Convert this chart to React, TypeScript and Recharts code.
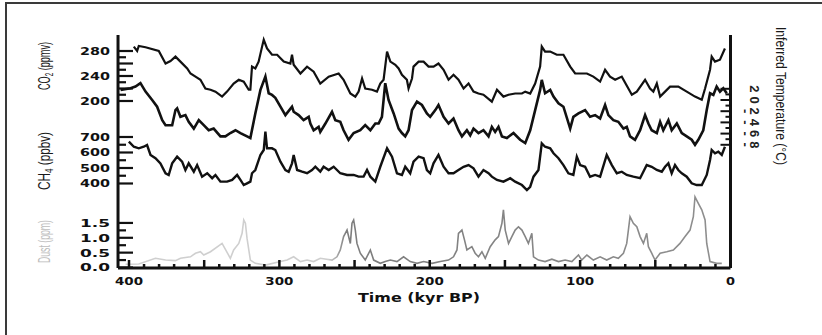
import React from 'react';
import { ComposedChart, Line, XAxis, YAxis } from 'recharts';

const WIDTH = 822;
const HEIGHT = 335;
const INK = '#111';
const TICK_FONT = '"DejaVu Sans", Verdana, sans-serif';
const TITLE_FONT = '"Liberation Sans Narrow", "Liberation Sans", Arial, sans-serif';
// axes need a non-zero box to be drawn; keep it tiny so they all sit on the plot edge
const THIN = 0.01;

// ice core record, time in kyr BP
const co2Kyr = [
  396.8, 394.6, 393.5, 389, 380.2, 375.7, 372.4, 369.1, 365.8, 361.3,
  359.1, 355.8, 352.5, 349.2, 345.8, 342.5, 338.1, 334.8, 330.4, 327,
  323.7, 320.4, 319.3, 318.2, 316, 313.8, 311.5, 310.4, 308.2, 304.9,
  301.5, 297.1, 292.7, 291.6, 290.5, 286, 281.6, 277.2, 272.8, 267.2,
  260.6, 257.3, 252.8, 249.5, 247.3, 245, 242.9, 238.4, 235.1, 232.9,
  230.7, 228.4, 226.2, 222.9, 220.7, 218.5, 215.2, 214.1, 211.8, 210.8,
  207.4, 204.1, 200.8, 197.5, 194.2, 190.8, 187.5, 184.2, 180.9, 177.5,
  174.2, 170.9, 167.6, 164.3, 158.7, 155.3, 151, 147.6, 143.2, 138.7,
  136.5, 133.2, 129.9, 126.6, 125.5, 123.3, 119.9, 115.5, 111.1, 106.6,
  103.3, 98.9, 95.5, 91.2, 86.7, 83.4, 80.1, 76.7, 72.3, 65.6,
  62.3, 56.8, 53.5, 51.3, 49, 46.8, 43.5, 40.2, 34.7, 29.1,
  23.6, 19.1, 16.9, 13.6, 12.5, 10.3, 7, 3.7,
];
const co2Ppmv = [
  287, 280, 288, 286, 280, 260, 264, 271, 263, 252,
  244, 239, 234, 220, 218, 215, 207, 215, 228, 234,
  231, 218, 218, 255, 252, 263, 287, 298, 284, 274,
  274, 263, 260, 274, 258, 244, 255, 247, 228, 239,
  244, 234, 212, 207, 215, 236, 220, 218, 215, 228,
  234, 279, 263, 258, 252, 242, 234, 220, 236, 255,
  263, 263, 255, 255, 260, 250, 234, 242, 234, 220,
  228, 215, 212, 210, 199, 218, 207, 210, 212, 212,
  215, 212, 228, 255, 287, 279, 279, 274, 274, 255,
  244, 244, 244, 239, 231, 250, 239, 234, 239, 210,
  215, 234, 220, 215, 228, 207, 215, 223, 223, 215,
  207, 202, 220, 250, 271, 263, 266, 284,
];

const tempKyr = [
  405.6, 399, 395.7, 392.4, 389, 384.6, 381.3, 377.9, 375.7, 371.3,
  369.1, 368, 365.8, 362.5, 360.3, 356.9, 353.6, 350.3, 347, 343.7,
  339.2, 335.9, 332.6, 329.2, 325.9, 321.5, 319.3, 316, 312.6, 309.3,
  307.1, 304.9, 302.7, 299.3, 296, 291.6, 290.5, 287.2, 283.9, 280.5,
  279.4, 277.2, 273.9, 272.8, 269.4, 265, 262.8, 259.5, 257.3, 254,
  250.6, 246.2, 242.9, 239.5, 236.2, 234, 231.8, 229.6, 227.4, 224,
  220.7, 218.5, 216.3, 214.1, 211.8, 208.5, 205.2, 201.9, 199.7, 196.3,
  194.2, 190.8, 187.5, 184.2, 180.9, 178.6, 175.3, 173.1, 170.9, 167.6,
  164.3, 160.9, 158.7, 156.5, 154.3, 152, 148.7, 144.3, 139.9, 136.5,
  133.2, 129.9, 126.6, 125.5, 123.3, 119.9, 117.7, 114.4, 111.1, 106.6,
  104.5, 101.1, 96.7, 93.4, 90, 86.7, 83.4, 81.2, 77.9, 74.6,
  71.2, 69, 66.8, 63.5, 60.1, 56.8, 54.6, 52.4, 49, 46.8,
  44.7, 41.3, 39.1, 35.7, 32.4, 29.1, 25.8, 23.6, 21.4, 18.1,
  15.8, 13.6, 11.4, 9.2, 7, 4.8, 2.5,
];
const tempC = [
  1.8, 2.1, 2.4, 3.0, 1.5, 0, -1.2, -3.6, -4.5, -4.5,
  -1.8, -1.5, -3.0, -2.7, -3.9, -5.1, -3.6, -4.5, -5.4, -5.1,
  -6.5, -6.5, -5.9, -5.4, -5.9, -6.5, -6.8, -2.4, 1.8, 4.2,
  1.2, 0.9, 0.4, -1.2, -2.7, -1.2, -2.1, -2.7, -3.6, -3.0,
  -4.2, -5.4, -4.8, -5.7, -4.2, -2.1, -3.6, -3.9, -5.4, -7.1,
  -5.9, -5.4, -4.5, -5.4, -4.2, -4.2, -3.0, 3.0, 0, -2.4,
  -5.1, -5.9, -6.5, -5.4, -1.8, -0.3, -0.9, -2.4, -3.0, -1.8,
  -0.9, -3.0, -4.2, -3.3, -5.4, -6.5, -5.4, -6.3, -5.1, -5.9,
  -5.4, -6.5, -4.8, -5.7, -4.8, -6.5, -6.8, -5.9, -7.1, -7.7,
  -5.4, -1.8, 1.8, 3.6, 1.2, 1.8, 0.6, -0.6, -1.2, -5.1,
  -3.0, -2.4, -1.8, -3.0, -2.7, -3.3, -0.9, -2.7, -3.6, -3.9,
  -5.1, -4.8, -6.5, -7.1, -5.4, -2.7, -4.2, -5.4, -5.9, -3.9,
  -5.4, -3.6, -5.4, -4.2, -5.9, -6.5, -7.1, -8.0, -7.1, -5.4,
  -1.8, 1.2, 0.9, 2.4, 1.5, 2.1, 1.2,
];

const ch4Kyr = [
  400.1, 396.8, 393.5, 390.2, 388, 385.7, 382.4, 379.1, 375.7, 373.6,
  371.3, 368, 364.7, 362.5, 360.3, 356.9, 354.7, 351.4, 348, 344.7,
  342.5, 339.2, 334.8, 331.4, 328.1, 325.9, 323.7, 321.5, 319.3, 318.2,
  316, 312.6, 310.4, 309.3, 308.2, 304.9, 302.7, 299.3, 296, 293.8,
  291.6, 290.5, 288.2, 284.9, 281.6, 278.3, 276.1, 272.8, 270.6, 267.2,
  263.9, 259.5, 255, 250.6, 247.3, 244, 241.7, 239.5, 236.2, 232.9,
  228.4, 225.1, 221.8, 218.5, 216.3, 213, 210.8, 207.4, 204.1, 201.9,
  199.7, 197.5, 194.2, 190.8, 187.5, 184.2, 180.9, 177.5, 174.2, 170.9,
  167.6, 164.3, 160.9, 158.7, 155.3, 151, 146.5, 143.2, 138.7, 135.4,
  133.2, 131, 127.7, 125.5, 123.3, 119.9, 117.7, 114.4, 111.1, 107.8,
  104.5, 102.2, 100, 96.7, 93.4, 90, 86.7, 82.3, 78.9, 75.6,
  72.3, 69, 64.6, 60.1, 55.7, 52.4, 49, 45.7, 43.5, 41.3,
  39.1, 36.9, 34.7, 32.4, 29.1, 25.8, 22.5, 19.1, 15.8, 13.6,
  12.5, 10.3, 8.1, 5.8, 3.7,
];
const ch4Ppbv = [
  670, 637, 627, 637, 648, 584, 563, 530, 466, 455,
  530, 573, 541, 487, 530, 476, 519, 444, 466, 434,
  455, 412, 412, 423, 455, 423, 390, 401, 412, 466,
  487, 584, 616, 734, 627, 627, 616, 541, 487, 476,
  530, 584, 487, 476, 466, 487, 508, 476, 508, 487,
  508, 466, 455, 455, 444, 444, 487, 444, 412, 508,
  627, 573, 466, 455, 508, 466, 541, 573, 563, 487,
  466, 530, 584, 508, 466, 466, 487, 508, 519, 498,
  444, 487, 466, 444, 423, 412, 434, 412, 390, 358,
  379, 444, 487, 659, 637, 627, 595, 563, 519, 466,
  455, 573, 519, 508, 444, 455, 444, 584, 519, 466,
  476, 455, 444, 434, 519, 508, 487, 476, 508, 530,
  466, 519, 487, 466, 444, 401, 390, 390, 455, 552,
  616, 595, 605, 584, 637,
];

const dustKyr = [
  402.3, 393.5, 382.4, 375.7, 369.1, 365.8, 359.1, 355.8, 352.5, 350.3,
  345.8, 338.1, 332.6, 330.4, 327, 324.8, 323.7, 322.6, 321.5, 319.3,
  316, 309.3, 299.3, 294.9, 290.5, 286, 281.6, 277.2, 272.8, 265,
  261.7, 259.5, 257.3, 255, 252.8, 251.7, 250.6, 249.5, 248.4, 246.2,
  242.9, 239.5, 237.3, 232.9, 229.6, 226.2, 221.8, 217.4, 213, 208.5,
  204.1, 198.5, 193, 187.5, 184.2, 181.9, 180.9, 178.6, 176.9, 175.3,
  172, 169.8, 167.6, 165.3, 163.1, 159.8, 156.5, 154.3, 152, 151,
  149.8, 147.6, 145.4, 143.2, 141, 138.7, 136.5, 134.4, 132.1, 131,
  127.7, 123.3, 118.8, 114.4, 110, 105.5, 101.1, 98.9, 95.5, 91.2,
  86.7, 82.3, 77.9, 74.6, 71.2, 69, 66.8, 64.6, 62.3, 60.1,
  57.9, 55.7, 54.6, 52.4, 50.2, 46.8, 42.4, 38, 33.6, 30.2,
  26.9, 24.7, 23.6, 21.4, 19.1, 16.9, 15.8, 13.6, 9.2, 5.8,
];
const dustPpm = [
  0.11, 0.12, 0.31, 0.25, 0.23, 0.31, 0.36, 0.48, 0.53, 0.42,
  0.53, 0.81, 0.31, 0.59, 0.81, 1.15, 1.6, 1.49, 0.98, 0.25,
  0.14, 0.08, 0.2, 0.25, 0.36, 0.2, 0.25, 0.2, 0.31, 0.25,
  0.36, 0.59, 1.04, 1.26, 0.81, 1.49, 1.6, 1.26, 0.81, 0.48,
  0.25, 0.59, 0.25, 0.14, 0.2, 0.25, 0.2, 0.36, 0.2, 0.14,
  0.2, 0.14, 0.2, 0.25, 0.36, 0.59, 1.15, 1.26, 0.93, 0.59,
  0.7, 0.48, 0.36, 0.53, 0.31, 0.7, 0.93, 1.04, 1.49, 1.94,
  1.26, 0.81, 1.04, 1.26, 1.37, 1.26, 1.04, 0.81, 1.15, 0.36,
  0.25, 0.2, 0.28, 0.2, 0.25, 0.2, 0.42, 0.25, 0.42, 0.25,
  0.36, 0.25, 0.36, 0.31, 0.48, 0.81, 1.71, 1.49, 1.37, 1.04,
  0.81, 1.15, 0.7, 0.48, 0.25, 0.48, 0.53, 0.59, 0.81, 1.04,
  1.26, 1.71, 2.38, 2.16, 1.94, 1.6, 0.81, 0.2, 0.14, 0.14,
];

const timeTicks = [
  0, 10, 20, 30, 40, 50, 60, 70, 80, 90, 100, 110, 120, 130, 140, 150, 160, 170, 180, 190, 200,
  210, 220, 230, 240, 250, 260, 270, 280, 290, 300, 310, 320, 330, 340, 350, 360, 370, 380, 390, 400,
];
const co2Ticks = [200, 210, 220, 230, 240, 250, 260, 270, 280];
const ch4Ticks = [400, 450, 500, 550, 600, 650, 700];
const dustTicks = [0, 0.25, 0.5, 0.75, 1, 1.25, 1.5];
const tempTicks = [2, 1, 0, -1, -2, -3, -4, -5, -6, -7, -8];

const toPoints = (ts: number[], vs: number[]) => ts.map((t, i) => ({ t, v: vs[i] }));

const co2Data = toPoints(co2Kyr, co2Ppmv);
const tempData = toPoints(tempKyr, tempC);
const ch4Data = toPoints(ch4Kyr, ch4Ppbv);
const dustData = toPoints(dustKyr, dustPpm);

const isMultiple = (v: number, step: number) => Math.abs(v / step - Math.round(v / step)) < 1e-6;

// inward ticks on the left axis, labels outside
function makeLeftTick(longStep: number, labelStep: number, digits: number) {
  return (props: any) => {
    const { x, y, payload } = props;
    const v = payload.value;
    const long = isMultiple(v, longStep);
    const label = isMultiple(v, labelStep) ? v.toFixed(digits) : null;
    return (
      <g>
        <line x1={x} x2={x + (long ? 15 : 8)} y1={y} y2={y} stroke={INK} strokeWidth={2.2} />
        {label && (
          <text
            x={x - 8}
            y={y + 4}
            textAnchor="end"
            fontFamily={TICK_FONT}
            fontWeight="bold"
            fontSize={11}
            fill={INK}
            textLength={30}
            lengthAdjust="spacingAndGlyphs"
          >
            {label}
          </text>
        )}
      </g>
    );
  };
}

const co2Tick = makeLeftTick(20, 40, 0);
const ch4Tick = makeLeftTick(100, 100, 0);
const dustTick = makeLeftTick(0.5, 0.5, 1);

function TimeTick(props: any) {
  const { x, y, payload } = props;
  const v = payload.value;
  const h = isMultiple(v, 50) ? 8 : 4;
  return (
    <g>
      <line x1={x} x2={x} y1={y} y2={y - h} stroke={INK} strokeWidth={2.5} />
      {isMultiple(v, 100) && (
        <text
          x={x}
          y={y + 17}
          textAnchor="middle"
          fontFamily={TICK_FONT}
          fontWeight="bold"
          fontSize={11}
          fill={INK}
          textLength={v === 0 ? 9 : 28}
          lengthAdjust="spacingAndGlyphs"
        >
          {v}
        </text>
      )}
    </g>
  );
}

// right axis: digits are set sideways like the original
function TempTick(props: any) {
  const { x, y, payload } = props;
  const v = payload.value;
  const long = isMultiple(v, 2);
  return (
    <g>
      <line x1={x} x2={x - (long ? 10 : 5)} y1={y} y2={y} stroke={INK} strokeWidth={2} />
      {long && (
        <g fontFamily='"Liberation Sans", Arial, sans-serif' fontWeight="bold" fontSize={13} fill="#222">
          <text transform={`translate(${x + 20},${y}) rotate(90)`} textAnchor="middle">
            {Math.abs(v)}
          </text>
          {v < 0 && (
            <text transform={`translate(${x + 11},${y}) rotate(90)`} textAnchor="middle">
              -
            </text>
          )}
        </g>
      )}
    </g>
  );
}

export default function App() {
  return (
    <div
      style={{
        position: 'absolute',
        left: 0,
        top: 0,
        width: WIDTH,
        height: HEIGHT,
        overflow: 'hidden',
        background: '#fff',
      }}
    >
      <div
        style={{
          position: 'absolute',
          left: 5,
          top: 2,
          width: WIDTH - 5,
          height: HEIGHT - 2,
          boxSizing: 'border-box',
          borderTop: '2px solid #3a3a3a',
          borderLeft: '2px solid #3a3a3a',
        }}
      />
      <div style={{ position: 'absolute', left: 0, top: 0 }}>
        <ComposedChart width={WIDTH} height={HEIGHT} margin={{ top: 35, right: 91.5, bottom: 67, left: 118 }}>
          <defs>
            <linearGradient id="dustStroke" x1="0" y1="0" x2="1" y2="0">
              <stop offset="0" stopColor="#cfcfcf" />
              <stop offset="0.34" stopColor="#cfcfcf" />
              <stop offset="0.37" stopColor="#7d7d7d" />
              <stop offset="1" stopColor="#8f8f8f" />
            </linearGradient>
          </defs>
          <XAxis
            type="number"
            dataKey="t"
            domain={[0, 407.3]}
            reversed
            allowDataOverflow
            ticks={timeTicks}
            interval={0}
            height={THIN}
            tickSize={0}
            tickMargin={0}
            tickLine={false}
            tick={TimeTick}
            axisLine={{ stroke: INK, strokeWidth: 3 }}
          />
          <YAxis
            yAxisId="co2"
            type="number"
            domain={[-67.2, 305.6]}
            allowDataOverflow
            ticks={co2Ticks}
            interval={0}
            width={THIN}
            tickSize={0}
            tickMargin={0}
            tickLine={false}
            tick={co2Tick}
            axisLine={{ stroke: INK, strokeWidth: 3 }}
          />
          <YAxis
            yAxisId="ch4"
            type="number"
            domain={[-145.2, 1358.1]}
            allowDataOverflow
            ticks={ch4Ticks}
            interval={0}
            width={THIN}
            tickSize={0}
            tickMargin={0}
            tickLine={false}
            tick={ch4Tick}
            axisLine={false}
          />
          <YAxis
            yAxisId="dust"
            type="number"
            domain={[-0.0168, 7.828]}
            allowDataOverflow
            ticks={dustTicks}
            interval={0}
            width={THIN}
            tickSize={0}
            tickMargin={0}
            tickLine={false}
            tick={dustTick}
            axisLine={false}
          />
          <YAxis
            yAxisId="temp"
            orientation="right"
            type="number"
            domain={[-30, 11.607]}
            allowDataOverflow
            ticks={tempTicks}
            interval={0}
            width={THIN}
            tickSize={0}
            tickMargin={0}
            tickLine={false}
            tick={TempTick}
            axisLine={{ stroke: INK, strokeWidth: 3 }}
          />
          <Line
            yAxisId="dust"
            data={dustData}
            dataKey="v"
            type="linear"
            stroke="url(#dustStroke)"
            strokeWidth={1.6}
            dot={false}
            isAnimationActive={false}
          />
          <Line
            yAxisId="co2"
            data={co2Data}
            dataKey="v"
            type="linear"
            stroke={INK}
            strokeWidth={2.2}
            dot={false}
            isAnimationActive={false}
          />
          <Line
            yAxisId="temp"
            data={tempData}
            dataKey="v"
            type="linear"
            stroke={INK}
            strokeWidth={2.6}
            dot={false}
            isAnimationActive={false}
          />
          <Line
            yAxisId="ch4"
            data={ch4Data}
            dataKey="v"
            type="linear"
            stroke={INK}
            strokeWidth={2.4}
            dot={false}
            isAnimationActive={false}
          />
        </ComposedChart>
      </div>
      <svg
        width={WIDTH}
        height={HEIGHT}
        style={{ position: 'absolute', left: 0, top: 0, pointerEvents: 'none' }}
      >
        <g fontFamily={TITLE_FONT} fontSize={16} fill="#1a1a1a">
          <text transform="translate(50,66) rotate(-90)" textAnchor="middle" textLength={48} lengthAdjust="spacingAndGlyphs">
            CO<tspan dy={3} fontSize={11}>2</tspan>
            <tspan dy={-3}> (ppmv)</tspan>
          </text>
          <text transform="translate(50,161) rotate(-90)" textAnchor="middle" textLength={58} lengthAdjust="spacingAndGlyphs">
            CH<tspan dy={3} fontSize={11}>4</tspan>
            <tspan dy={-3}> (ppbv)</tspan>
          </text>
          <text
            transform="translate(50,241.5) rotate(-90)"
            textAnchor="middle"
            fill="#bdbdbd"
            textLength={43}
            lengthAdjust="spacingAndGlyphs"
          >
            Dust (ppm)
          </text>
          <text
            transform="translate(776,96) rotate(90)"
            textAnchor="middle"
            fontSize={15}
            textLength={138}
            lengthAdjust="spacingAndGlyphs"
          >
            Inferred Temperature (°C)
          </text>
        </g>
        <text
          x={419}
          y={302}
          textAnchor="middle"
          fontFamily={TICK_FONT}
          fontWeight="bold"
          fontSize={12}
          fill={INK}
          textLength={122}
          lengthAdjust="spacingAndGlyphs"
        >
          Time (kyr BP)
        </text>
      </svg>
    </div>
  );
}
